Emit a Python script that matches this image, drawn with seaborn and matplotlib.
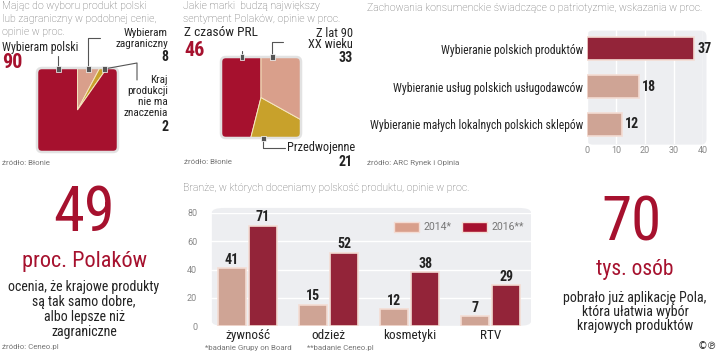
import matplotlib
matplotlib.use('Agg')
import matplotlib.pyplot as plt
from matplotlib import font_manager as fm
from matplotlib.patches import FancyBboxPatch, Rectangle, Patch
from matplotlib.lines import Line2D
import seaborn as sns
import pandas as pd

sns.set_theme(style='white')

# pick a narrow face if one is installed, otherwise Roboto
names = {f.name for f in fm.fontManager.ttflist}
narrow = next((n for n in ['Roboto Condensed', 'Liberation Sans Narrow', 'Noto Sans Condensed',
                           'DejaVu Sans Condensed', 'Open Sans Condensed'] if n in names), None)
STRETCH = 'normal'
if narrow is None:
    cond = [f for f in fm.fontManager.ttflist
            if f.name in ('Noto Sans', 'DejaVu Sans', 'Open Sans', 'Roboto')
            and f.stretch in ('condensed', 'semi-condensed', 'extra-condensed', 75, 87, 62)]
    if cond:
        narrow = cond[0].name
        STRETCH = cond[0].stretch
NARROW = narrow or 'Roboto'
K = 1.0 if narrow else 0.88
plt.rcParams['font.family'] = [NARROW, 'Roboto', 'DejaVu Sans']
plt.rcParams['font.stretch'] = STRETCH
LIGHT = ['Roboto', 'DejaVu Sans']

# data
pref_labels = ['Wybieram zagraniczny', 'Kraj produkcji nie ma znaczenia', 'Wybieram polski']
pref_values = [8, 2, 90]
brand_labels = ['Z czasów PRL', 'Przedwojenne', 'Z lat 90 XX wieku']
brand_values = [46, 21, 33]
behav_labels = ['Wybieranie polskich produktów', 'Wybieranie usług polskich usługodawców',
                'Wybieranie małych lokalnych polskich sklepów']
behav_values = [37, 18, 12]
sectors = ['żywność', 'odzież', 'kosmetyki', 'RTV']
years = ['2014*', '2016**']
share_2014 = [41, 15, 12, 7]
share_2016 = [71, 52, 38, 29]
stat_polakow = 49
stat_pola = 70

RED = '#A6112E'
SALMON = '#D99F8B'
GOLD = '#C8A12B'
BG = '#EDEEF1'
DARK = '#222222'
GREY = '#666666'
LEAD = '#555555'

W, H = 720, 353
fig = plt.figure(figsize=(7.2, 3.53), dpi=100)
fig.patch.set_facecolor('white')


def add_ax(x0, y0, x1, y1):
    return fig.add_axes([x0 / W, 1 - y1 / H, (x1 - x0) / W, (y1 - y0) / H])


def txt(x, y, s, size, **kw):
    kw.setdefault('va', 'center')
    kw.setdefault('color', DARK)
    fig.text(x / W, 1 - y / H, s, fontsize=size, **kw)


def lines(x, ys, texts, size, **kw):
    for y, s in zip(ys, texts):
        txt(x, y, s, size, **kw)


def small(x, y, s, size=5.7, **kw):
    txt(x, y, s, size, color='#777777', family=LIGHT, **kw)


def title(x, ys, texts):
    lines(x, ys, texts, 7.6, color=GREY, family=LIGHT, fontweight='light')


def leader(xs, ys, mx, my):
    fig.add_artist(Line2D([x / W for x in xs], [1 - y / H for y in ys],
                          color=LEAD, lw=0.8, transform=fig.transFigure))
    s = 5
    fig.add_artist(Rectangle(((mx - s / 2) / W, 1 - (my + s / 2) / H), s / W, s / H,
                             facecolor=LEAD, edgecolor='white', lw=0.5,
                             transform=fig.transFigure, zorder=5))


def square_pie(ax, values, colors, counterclock):
    wedges, _ = ax.pie(values, colors=colors, startangle=90, counterclock=counterclock,
                       radius=3, wedgeprops=dict(edgecolor='#f5e6c0', linewidth=0.7))
    ax.set_aspect('auto')
    ax.set_xlim(-1, 1)
    ax.set_ylim(-1, 1)
    box = FancyBboxPatch((0, 0), 1, 1, boxstyle='round,pad=0,rounding_size=0.06',
                         transform=ax.transAxes, facecolor='none', edgecolor='#e2e2e2',
                         lw=1.8, zorder=5, clip_on=False)
    ax.add_patch(box)
    for w in wedges:
        w.set_clip_on(True)
        w.set_clip_path(box)
    ax.axis('off')


# ---- panel 1
title(2, [6, 19, 32], ['Mając do wyboru produkt polski', 'lub zagraniczny w podobnej cenie,',
                       'opinie w proc.'])
ax1 = add_ax(37, 68, 118, 152)
square_pie(ax1, pref_values, [SALMON, GOLD, RED], counterclock=False)
txt(2, 47, pref_labels[2], 8.5 * K)
txt(2, 63, str(pref_values[2]), 14.5 * K, fontweight='bold', color=RED)
lines(168, [33, 44], ['Wybieram', 'zagraniczny'], 8.1 * K, ha='right')
txt(168, 57, str(pref_values[0]), 10 * K, fontweight='bold', ha='right')
lines(168, [80, 91, 102, 113], ['Kraj', 'produkcji', 'nie ma', 'znaczenia'], 8.1 * K, ha='right')
txt(168, 127, str(pref_values[1]), 10 * K, fontweight='bold', ha='right')
leader([58, 58], [69, 56], 58, 69)
leader([88, 88, 100], [69, 38, 38], 88, 69)
leader([104, 137, 137], [69, 63, 80], 104, 69)
small(2, 163, 'źródło: Błonie')

# ---- panel 2
title(183, [6, 19], ['Jakie marki  budzą największy', 'sentyment Polaków, opinie w proc.'])
ax2 = add_ax(221, 57, 301, 138)
square_pie(ax2, brand_values, [RED, GOLD, SALMON], counterclock=True)
txt(184, 33, brand_labels[0], 9.6 * K)
txt(184, 50, str(brand_values[0]), 14.5 * K, fontweight='bold', color=RED)
lines(353, [33.5, 44.5], ['Z lat 90', 'XX wieku'], 8.9 * K, ha='right')
txt(353, 57.5, str(brand_values[2]), 10 * K, fontweight='bold', ha='right')
txt(287, 147, brand_labels[1], 8.8 * K)
txt(353, 162, str(brand_values[1]), 10 * K, fontweight='bold', ha='right')
leader([242, 242], [57, 51], 242, 57)
leader([272, 272, 283], [57, 42, 42], 272, 57)
leader([263, 263, 285], [138, 148, 148], 263, 138)
small(184, 162, 'źródło: Błonie')

# ---- panel 3
title(367, [8], ['Zachowania konsumenckie świadczące o patriotyzmie, wskazania w proc.'])
ax3 = add_ax(587, 29.5, 703, 143.5)
ax3.add_patch(FancyBboxPatch((0, -0.01), 1.03, 1.0, boxstyle='round,pad=0,rounding_size=0.05',
                             transform=ax3.transAxes, facecolor=BG, edgecolor='none',
                             zorder=0, clip_on=False))
sns.barplot(x=behav_values, y=behav_labels, hue=behav_labels, palette=[RED, SALMON, SALMON],
            legend=False, width=0.63, edgecolor='#f4dcd3', linewidth=1.2, ax=ax3)
ax3.set_xlim(0, 40)
ax3.set_ylim(2.5, -0.5)
ax3.set_facecolor('none')
ax3.set_xticks([0, 10, 20, 30, 40])
ax3.xaxis.grid(True, color='white', lw=1)
ax3.set_axisbelow(True)
ax3.tick_params(axis='x', labelsize=6.5, labelcolor='#888888', length=0, pad=2)
ax3.tick_params(axis='y', labelsize=8.4 * K, labelcolor=DARK, length=0, pad=3)
for lab in ax3.get_xticklabels():
    lab.set_family(LIGHT)
ax3.set_xlabel('')
ax3.set_ylabel('')
sns.despine(ax=ax3, left=True, bottom=True)
for c in ax3.containers:
    ax3.bar_label(c, fontsize=10 * K, fontweight='bold', padding=2, color=DARK)
small(367, 163, 'źródło: ARC Rynek i Opinia')

# ---- panel 4
txt(84, 214, str(stat_polakow), 45 * K, color=RED, ha='center')
txt(84, 261, 'proc. Polaków', 16 * K, color=RED, ha='center')
lines(84, [287, 302, 317, 332], ['ocenia, że krajowe produkty', 'są tak samo dobre,',
                                 'albo lepsze niż', 'zagraniczne'], 10 * K, ha='center')
small(2, 347, 'źródło: Ceneo.pl')

# ---- panel 5
title(183, [188], ['Branże, w których doceniamy polskość produktu, opinie w proc.'])
df = pd.DataFrame({
    'sector': sectors * 2,
    'year': [years[0]] * 4 + [years[1]] * 4,
    'value': share_2014 + share_2016,
})
ax5 = add_ax(207, 213, 531, 326)
ax5.add_patch(FancyBboxPatch((0.015, 0), 0.985, 1.045, boxstyle='round,pad=0,rounding_size=0.04',
                             transform=ax5.transAxes, facecolor=BG, edgecolor='none',
                             zorder=0, clip_on=False))
sns.barplot(data=df, x='sector', y='value', hue='year', palette=[SALMON, RED],
            width=0.77, gap=0.1, edgecolor='#f4dcd3', linewidth=1.2, ax=ax5)
ax5.set_ylim(0, 80)
ax5.set_xlim(-0.5, 3.5)
ax5.set_facecolor('none')
ax5.set_yticks([0, 20, 40, 60, 80])
ax5.yaxis.grid(True, color='white', lw=1)
ax5.set_axisbelow(True)
ax5.tick_params(axis='y', labelsize=6.5, labelcolor='#888888', length=0, pad=7)
ax5.tick_params(axis='x', labelsize=9.5 * K, labelcolor=DARK, length=0, pad=2)
for lab in ax5.get_yticklabels():
    lab.set_family(LIGHT)
ax5.set_xlabel('')
ax5.set_ylabel('')
sns.despine(ax=ax5, left=True, bottom=True)
for c in ax5.containers:
    ax5.bar_label(c, fontsize=10 * K, fontweight='bold', padding=1, color=DARK)
handles = [Patch(facecolor=SALMON, edgecolor='#f4dcd3'), Patch(facecolor=RED, edgecolor='#f4dcd3')]
leg = ax5.legend(handles, years, loc='center right', bbox_to_anchor=(0.978, 0.876), ncol=2,
                 frameon=False, fontsize=7.6, handlelength=2.4, handleheight=1.2,
                 columnspacing=1.0, handletextpad=0.4, borderpad=0, borderaxespad=0)
for t in leg.get_texts():
    t.set_color('#777777')
    t.set_family(LIGHT)
small(205, 348, '*badanie Grupy on Board')
small(307, 348, '**badanie Ceneo.pl')

# ---- panel 6
txt(631, 223, str(stat_pola), 44 * K, color=RED, ha='center')
txt(635, 269, 'tys. osób', 15.5 * K, color=RED, ha='center')
lines(635, [298, 312, 326], ['pobrało już aplikację Pola,', 'która ułatwia wybór',
                             'krajowych produktów'], 10 * K, ha='center')
txt(717, 346, '©℗', 7, ha='right', family=['DejaVu Sans'])

fig.savefig('out.png', dpi=100)
